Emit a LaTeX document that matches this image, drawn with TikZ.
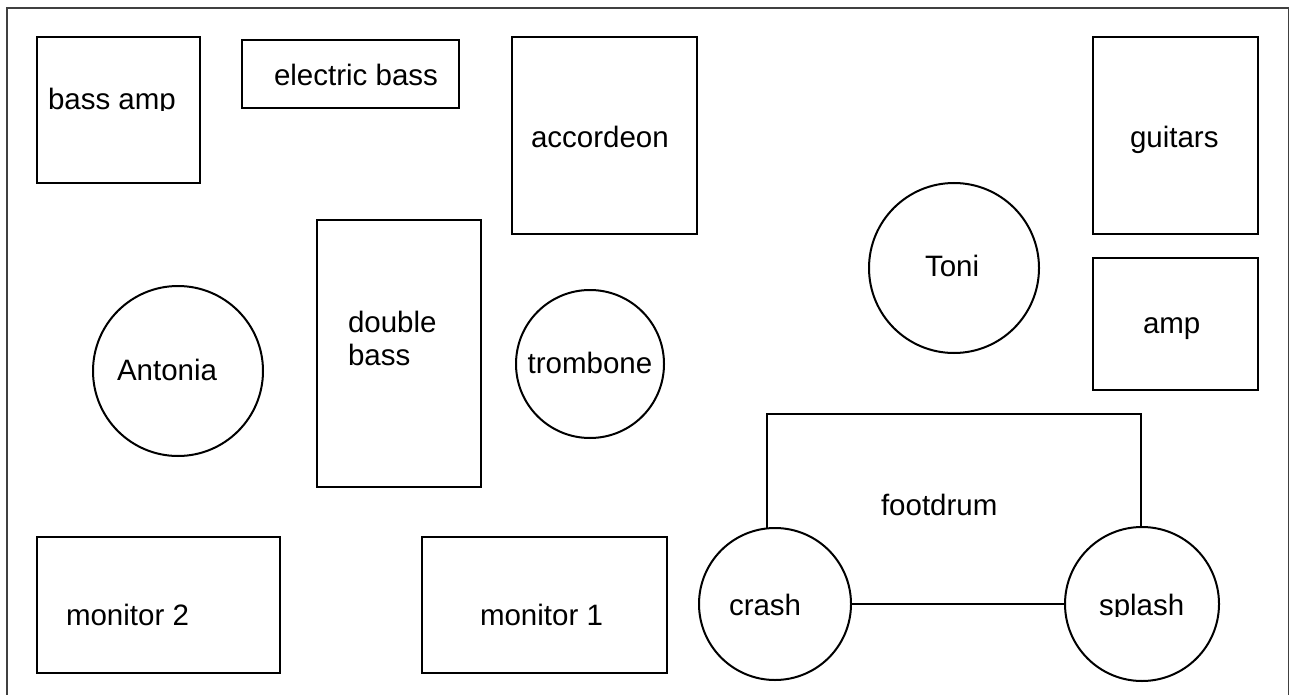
\documentclass[tikz,border=0pt]{standalone}
\usepackage{fontspec}
\setmainfont{Liberation Sans}
\newcommand\rbox[5]{\node[shapebox, minimum width={(#4-#2)*0.5pt}, minimum height={(#5-#3)*0.5pt}] (#1) at (#2,#3) {};}
\begin{document}
\begin{tikzpicture}[x=0.5pt,y=-0.5pt,
  shapebox/.style={draw, line width=1pt, rectangle, inner sep=0pt, outer sep=0pt, anchor=north west, fill=white},
  round/.style={draw, line width=1pt, circle, inner sep=0pt, outer sep=0pt, fill=white},
  lbl/.style={inner sep=0pt, outer sep=0pt, font=\fontsize{14.75}{16.5}\selectfont, anchor=base west},
  frame/.style={draw=black!75, line width=0.8pt}
]
\useasboundingbox (0,0) rectangle (1289,695);
\node[frame, rectangle, inner sep=0pt, anchor=north west, minimum width={1282*0.5pt}, minimum height={710*0.5pt}] (stage) at (6,7) {};

% rectangles
\rbox{bassamp}{37}{37}{200}{183}
\rbox{ebass}{242}{40}{459}{108}
\rbox{accordeon}{512}{37}{697}{234}
\rbox{dbass}{317}{220}{481}{487}
\rbox{guitars}{1093}{37}{1258}{234}
\rbox{amp}{1093}{258}{1258}{390}
\rbox{mon2}{37}{537}{280}{673}
\rbox{mon1}{422}{537}{667}{673}
\rbox{footdrum}{767}{414}{1141}{604}

% circles
\node[round, minimum size={170*0.5pt}] (antonia) at (178,371) {};
\node[round, minimum size={148*0.5pt}] (trombone) at (590,364) {};
\node[round, minimum size={170*0.5pt}] (toni) at (954,268) {};
\node[round, minimum size={152*0.5pt}] (crash) at (775,604) {};
\node[round, minimum size={154*0.5pt}] (splash) at (1142,604) {};

% labels
\begin{scope}
\clip (37,37) rectangle (200,111);
\node[lbl] (tbassamp) at (48,110) {bass amp};
\end{scope}
\node[lbl] (tebass) at (274,86) {electric bass};
\node[lbl] (taccordeon) at (531,148) {accordeon};
\node[lbl] (tdouble) at (348,332) {double};
\node[lbl] (tbass) at (348,365) {bass};
\node[lbl] (tantonia) at (117,380) {Antonia};
\node[lbl, anchor=base] (ttrombone) at (590,373) {trombone};
\node[lbl] (ttoni) at (925,276) {Toni};
\node[lbl] (tguitars) at (1130,148) {guitars};
\node[lbl] (tamp) at (1143,333) {amp};
\node[lbl] (tfootdrum) at (881,515) {footdrum};
\node[lbl] (tcrash) at (729,615) {crash};
\begin{scope}
\clip (1066,560) rectangle (1218,616);
\node[lbl] (tsplash) at (1099,615) {splash};
\end{scope}
\node[lbl] (tmon2) at (66,625) {monitor 2};
\node[lbl] (tmon1) at (480,625) {monitor 1};
\end{tikzpicture}
\end{document}
